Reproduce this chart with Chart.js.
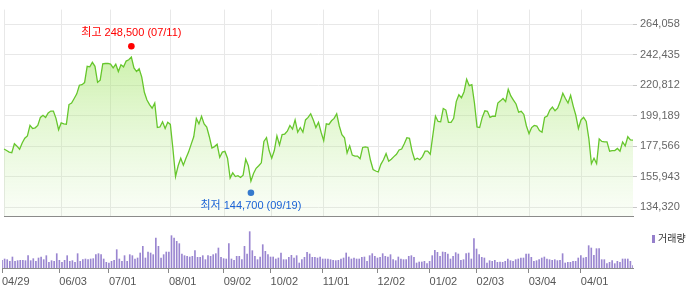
<!DOCTYPE html>
<html><head><meta charset="utf-8">
<script src="https://cdn.jsdelivr.net/npm/chart.js@4.4.1/dist/chart.umd.min.js"></script>
<style>
html,body{margin:0;padding:0;background:#fff;width:700px;height:289px;overflow:hidden;position:relative;font-family:"Liberation Sans","Noto Sans CJK KR",sans-serif}
#c1{position:absolute;left:0;top:0}
#c2{position:absolute;left:0;top:226px}
#leg{position:absolute;left:652px;top:231px;font-size:10px;color:#333;line-height:14px;white-space:nowrap;font-family:"Noto Sans CJK KR",sans-serif}
#leg i{display:inline-block;width:3px;height:8px;background:#957fcb;margin-right:3px;vertical-align:-1px}
</style></head><body>
<canvas id="c1" width="700" height="226"></canvas>
<canvas id="c2" width="700" height="63"></canvas>
<div id="leg"><i></i>거래량</div>
<script>
// ---- data ----
const startDate = '2024-04-29';
const endDate = '2025-04-29';
const holidays = ['2024-05-01','2024-05-06','2024-05-15','2024-06-06','2024-08-15','2024-09-16','2024-09-17','2024-09-18',
  '2024-10-01','2024-10-03','2024-10-09','2024-12-25','2024-12-31','2025-01-01','2025-01-27','2025-01-28','2025-01-29','2025-01-30','2025-03-03'];

const closes = [
175700,174600,173500,173100,179400,177700,175500,180000,183300,185000,
192400,190200,190700,192400,198100,199600,198100,201300,202600,202600,
197400,189400,194200,193500,193300,207200,208300,211500,214800,220900,
221300,222800,234300,233900,237100,234300,223000,224500,236100,236300,
236300,235800,233200,235800,230600,235400,233900,238000,238900,240800,
233200,230600,232600,226700,215900,210400,207200,204600,208300,190900,
191300,195000,190200,194600,193100,175700,156200,163800,169200,164200,
169200,173500,179000,184400,197400,193500,198900,193500,191300,184400,
176400,177400,179000,169800,173500,174000,169200,155100,158800,156200,
156800,155500,157200,168500,163800,152900,158300,162000,163800,165900,
181100,183700,174600,169200,174600,185000,178500,185900,186300,188300,
192400,189800,196300,187600,190900,187600,196300,198100,200700,196300,
190900,194600,187600,181600,193500,193100,195700,197400,200700,192000,
185900,183700,172900,177900,171400,170700,170700,168800,176800,177200,
176800,167700,161200,160100,159400,164800,168100,172400,167000,168500,
170300,172000,175000,175700,179400,183700,183300,174200,168100,169200,
168100,170300,174200,174200,172000,185500,198900,195200,195000,204400,
203300,194600,194600,197400,209300,214100,212000,216300,225200,220600,
221300,208300,191300,190900,198100,202800,202400,198100,198900,198900,
208300,209800,211500,209300,218000,213300,210400,207600,201800,202400,
200200,192000,186600,190900,192400,192000,188700,187600,198100,199100,
203300,205400,202800,204600,209300,215200,211500,208300,213700,206100,
199600,190200,196300,198100,195200,183300,165300,169200,165300,182900,
181100,180700,180700,174200,174600,174600,176100,174200,180700,177900,
184400,182200,182000];

// volume, thousand shares
const volumes = [
115,135,125,100,165,100,110,115,115,110,
185,110,140,100,150,165,125,185,85,110,
100,215,115,85,115,185,100,110,85,215,
100,125,135,125,135,140,200,215,200,135,
85,75,100,115,275,135,100,185,100,200,
185,135,150,225,325,150,240,225,200,450,
325,150,200,240,240,485,450,400,365,210,
185,175,165,175,260,160,160,185,125,185,
175,200,215,300,160,140,135,365,135,115,
175,175,125,325,210,545,260,175,125,165,
350,250,200,165,165,135,150,225,125,125,
160,190,150,185,75,125,160,235,210,160,
160,150,165,135,135,135,125,115,110,115,
135,150,225,165,135,150,135,135,160,165,
100,185,215,175,150,160,215,175,165,200,
125,110,165,135,125,125,175,185,160,75,
90,90,100,65,100,185,265,235,175,240,
235,210,135,175,230,210,115,125,215,225,
135,440,285,200,160,150,75,110,100,115,
85,90,85,100,135,110,100,125,135,150,
150,210,210,160,100,110,125,150,165,135,
125,115,125,110,115,215,75,85,85,100,
100,150,185,150,160,335,300,190,290,290,
125,125,65,85,110,65,100,85,135,135,
135,100,35];

const tickDates = ['2024-04-29','2024-06-03','2024-07-01','2024-08-01','2024-09-02','2024-10-02','2024-11-01',
  '2024-12-02','2025-01-02','2025-02-03','2025-03-04','2025-04-01'];
const yTicks = [134320,155943,177566,199189,220812,242435,264058];
const highPoint = {date:'2024-07-11', value:248500, label:'최고 248,500 (07/11)'};
const lowPoint  = {date:'2024-09-19', value:144700, label:'최저 144,700 (09/19)'};

// ---- trading-day categories ----
const dates = [];
for (let d = new Date(startDate + 'T00:00:00Z'); d <= new Date(endDate + 'T00:00:00Z'); d.setUTCDate(d.getUTCDate() + 1)) {
  const s = d.toISOString().slice(0, 10);
  const wd = d.getUTCDay();
  if (wd !== 0 && wd !== 6 && !holidays.includes(s)) dates.push(s);
}
const tickIdx = tickDates.map(t => dates.indexOf(t));
const fmtTick = s => s.slice(5).replace('-', '/');

const FONT = '"Liberation Sans","Noto Sans CJK KR",sans-serif';
const step = yTicks[1] - yTicks[0];
const yMax = yTicks[yTicks.length - 1] + step * 0.482;
const yMin = yTicks[0] - step * 0.295;

const markerLabels = {
  id: 'markerLabels',
  afterDatasetsDraw(chart) {
    const ctx = chart.ctx;
    [[1, highPoint, -13.5, '#ff0000'], [2, lowPoint, 13, '#1a63d6']].forEach(([di, p, off, col]) => {
      const el = chart.getDatasetMeta(di).data[0];
      if (!el) return;
      ctx.save();
      ctx.font = '11px ' + FONT;
      ctx.fillStyle = col;
      ctx.textAlign = 'center';
      ctx.textBaseline = 'middle';
      ctx.fillText(p.label, el.x, el.y + off);
      ctx.restore();
    });
  }
};

new Chart(document.getElementById('c1'), {
  type: 'line',
  data: {
    labels: dates,
    datasets: [{
      data: closes,
      borderColor: '#66c62c',
      borderWidth: 1.3,
      pointRadius: 0,
      tension: 0,
      fill: 'start',
      backgroundColor: (c) => {
        const a = c.chart.chartArea;
        if (!a) return 'rgba(0,0,0,0)';
        const g = c.chart.ctx.createLinearGradient(0, a.top, 0, a.bottom);
        g.addColorStop(0, 'rgba(150,225,80,0.65)');
        g.addColorStop(1, 'rgba(200,240,170,0.1)');
        return g;
      }
    }, {
      data: [{x: highPoint.date, y: highPoint.value}],
      showLine: false, pointRadius: 3.3, pointBackgroundColor: '#ff0000', pointBorderWidth: 0, fill: false
    }, {
      data: [{x: lowPoint.date, y: lowPoint.value}],
      showLine: false, pointRadius: 3.3, pointBackgroundColor: '#1a63d6', pointBorderWidth: 0, fill: false
    }]
  },
  options: {
    responsive: false, animation: false, devicePixelRatio: 1,
    layout: {padding: {left: 2, right: 0, top: 0, bottom: 1}},
    plugins: {legend: {display: false}, tooltip: {enabled: false}},
    scales: {
      x: {
        type: 'category', offset: false,
        grid: {color: '#e8e8e8', drawTicks: false, offset: false},
        border: {display: true, color: '#8a8a8a', width: 1},
        ticks: {display: false},
        afterBuildTicks: (s) => { s.ticks = tickIdx.map(v => ({value: v})); }
      },
      y: {
        position: 'right', min: yMin, max: yMax,
        grid: {color: '#e8e8e8', tickLength: 4, tickColor: '#c8c8c8'},
        border: {display: false},
        ticks: {color: '#666', font: {family: FONT, size: 11}, padding: 3,
          callback: (v) => Number(v).toLocaleString('en-US')},
        afterBuildTicks: (s) => { s.ticks = yTicks.map(v => ({value: v})); },
        afterFit: (s) => { s.width = 67; }
      }
    }
  },
  plugins: [markerLabels]
});

new Chart(document.getElementById('c2'), {
  type: 'bar',
  data: {
    labels: dates,
    datasets: [{data: volumes, backgroundColor: '#9a86d0', barThickness: 1, borderWidth: 0}]
  },
  options: {
    responsive: false, animation: false, devicePixelRatio: 1,
    layout: {padding: {left: 2, right: 67, top: 0, bottom: 0}},
    plugins: {legend: {display: false}, tooltip: {enabled: false}},
    scales: {
      x: {
        type: 'category', offset: false,
        grid: {display: true, drawOnChartArea: false, drawTicks: true, tickLength: 5, tickColor: '#888', offset: false},
        border: {display: true, color: '#8a8a8a', width: 1},
        ticks: {align: 'start', color: '#555', font: {family: FONT, size: 11}, padding: 2, maxRotation: 0, autoSkip: false,
          callback: function (v) { return fmtTick(dates[v]); }},
        afterBuildTicks: (s) => { s.ticks = tickIdx.map(v => ({value: v})); },
        afterFit: (s) => { s.height = 21; }
      },
      y: {display: false, min: 0, max: 630}
    }
  }
});
</script>
</body></html>
